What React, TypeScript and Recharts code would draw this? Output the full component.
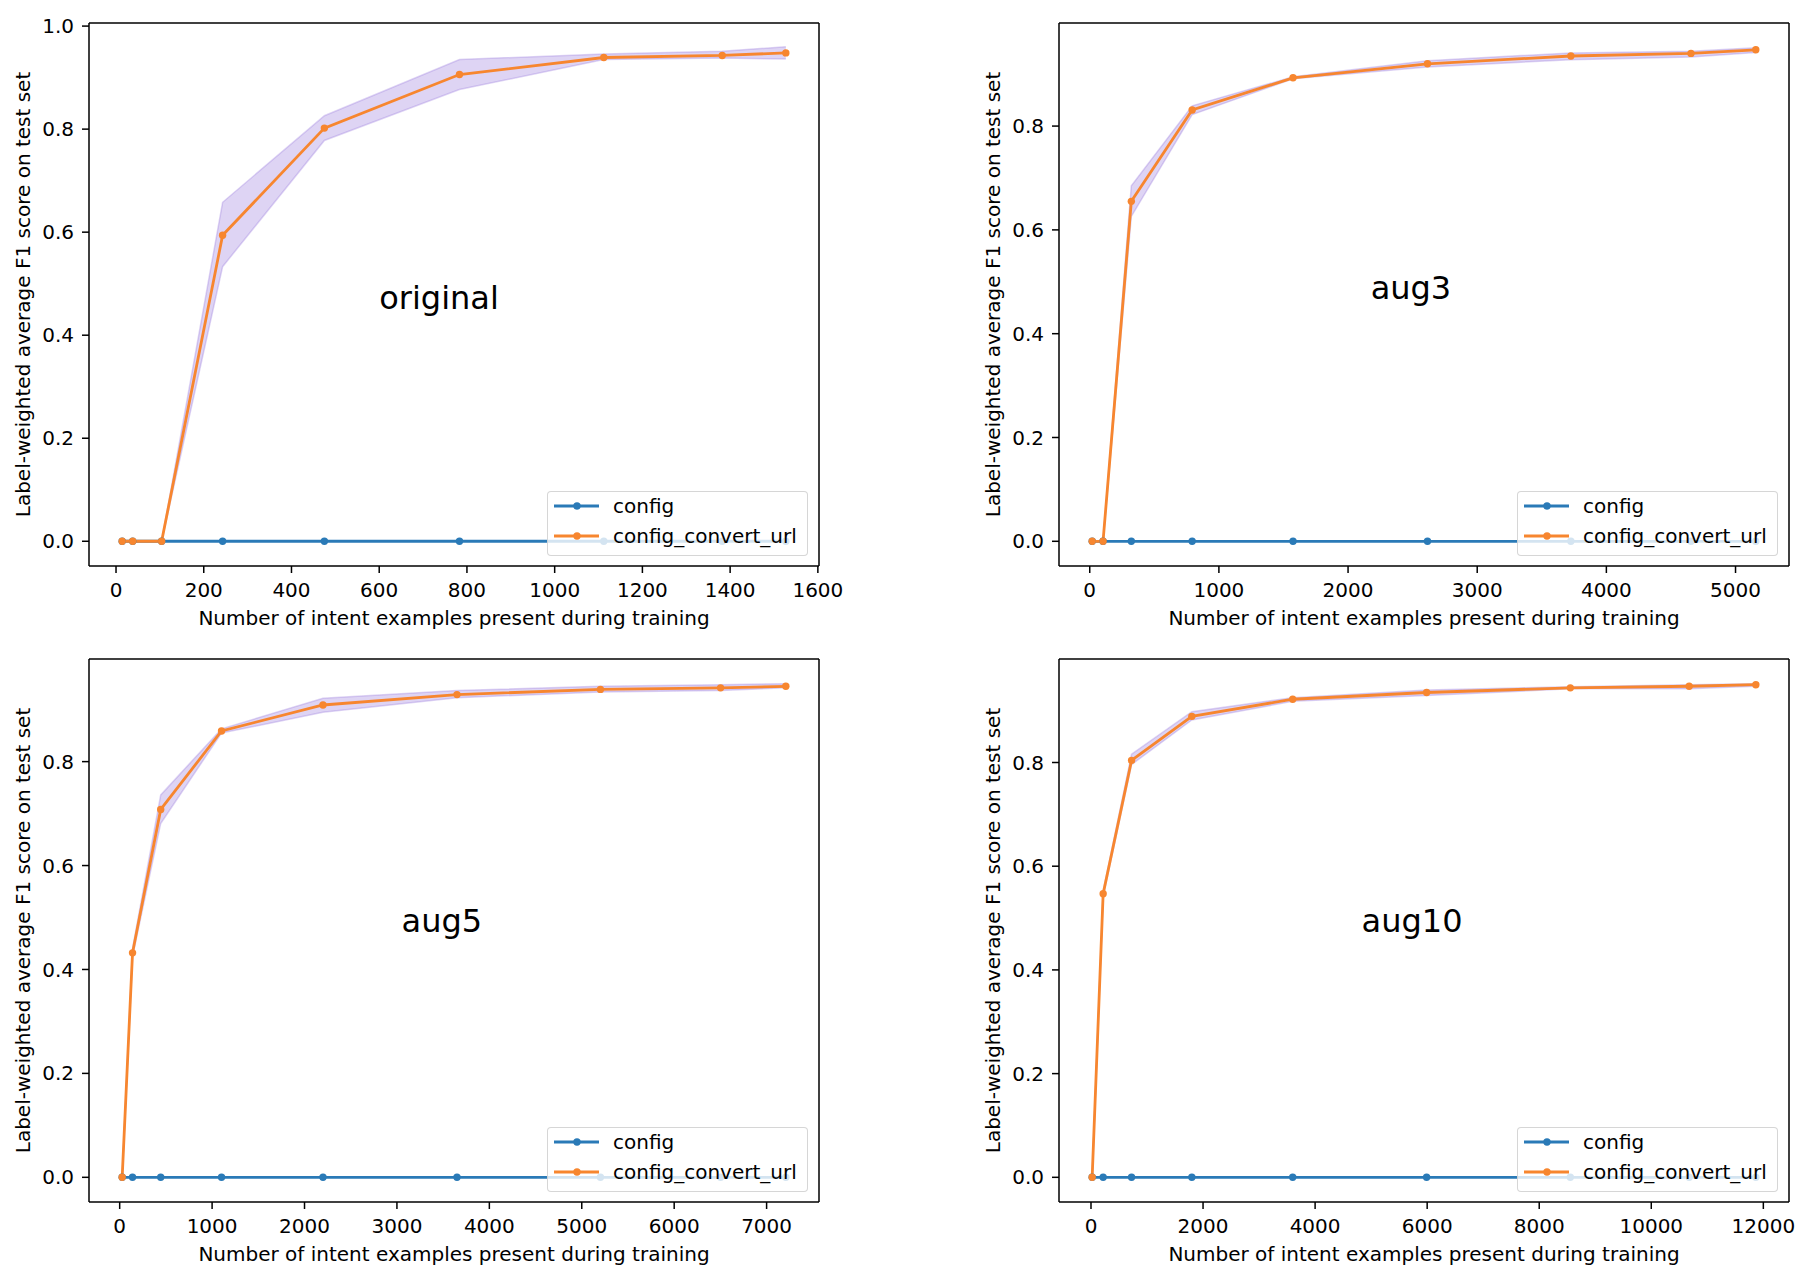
import { Area, ComposedChart, Label, Legend, Line, ReferenceDot, ReferenceLine, XAxis, YAxis } from 'recharts'

const FONT = '"DejaVu Sans", Verdana, sans-serif'
const BLUE = '#2a7ab7'
const ORANGE = '#f7862f'
const BAND = '#9370db'

// original
const originalX = [14, 38, 104, 243, 475, 783, 1112, 1382, 1527]
const originalConfig = [0, 0, 0, 0, 0, 0, 0, 0, 0]
const originalUrl = [0, 0, 0, 0.594, 0.802, 0.906, 0.939, 0.943, 0.948]
const originalLow = [0, 0, 0, 0.533, 0.778, 0.877, 0.935, 0.938, 0.936]
const originalHigh = [0, 0, 0, 0.658, 0.826, 0.935, 0.946, 0.951, 0.96]
const originalXTicks = [0, 200, 400, 600, 800, 1000, 1200, 1400, 1600]

// aug3
const aug3X = [19, 103, 322, 793, 1574, 2615, 3725, 4655, 5157]
const aug3Config = [0, 0, 0, 0, 0, 0, 0, 0, 0]
const aug3Url = [0, 0, 0.655, 0.831, 0.893, 0.92, 0.935, 0.94, 0.947]
const aug3Low = [0, 0, 0.626, 0.822, 0.891, 0.914, 0.928, 0.933, 0.942]
const aug3High = [0, 0, 0.685, 0.839, 0.895, 0.926, 0.941, 0.944, 0.951]
const aug3XTicks = [0, 1000, 2000, 3000, 4000, 5000]

// aug5
const aug5X = [27, 139, 444, 1102, 2200, 3650, 5202, 6502, 7208]
const aug5Config = [0, 0, 0, 0, 0, 0, 0, 0, 0]
const aug5Url = [0, 0.432, 0.708, 0.859, 0.909, 0.929, 0.939, 0.942, 0.945]
const aug5Low = [0, 0.425, 0.681, 0.855, 0.895, 0.923, 0.934, 0.937, 0.942]
const aug5High = [0, 0.44, 0.736, 0.863, 0.922, 0.937, 0.945, 0.948, 0.95]
const aug5XTicks = [0, 1000, 2000, 3000, 4000, 5000, 6000, 7000]

// aug10
const aug10X = [21, 217, 724, 1800, 3600, 5990, 8555, 10676, 11866]
const aug10Config = [0, 0, 0, 0, 0, 0, 0, 0, 0]
const aug10Url = [0, 0.547, 0.804, 0.889, 0.922, 0.935, 0.944, 0.947, 0.95]
const aug10Low = [0, 0.542, 0.796, 0.882, 0.918, 0.929, 0.942, 0.942, 0.947]
const aug10High = [0, 0.552, 0.816, 0.898, 0.925, 0.94, 0.946, 0.95, 0.952]
const aug10XTicks = [0, 2000, 4000, 6000, 8000, 10000, 12000]

const yTicksFull = [0, 0.2, 0.4, 0.6, 0.8, 1.0]
const yTicksShort = [0, 0.2, 0.4, 0.6, 0.8]

const seriesNames = ['config', 'config_convert_url']
const seriesColors = [BLUE, ORANGE]

const buildRows = (xs: number[], cfg: number[], url: number[], lo: number[], hi: number[]) =>
  xs.map((x, i) => ({ x, config: cfg[i], url: url[i], band: [lo[i], hi[i]] }))

const W = 844
const H = 636

function LegendBox() {
  return (
    <div
      style={{
        boxSizing: 'border-box',
        width: 261,
        height: 65,
        background: 'rgba(255,255,255,0.8)',
        border: '1px solid rgba(204,204,204,0.8)',
        borderRadius: 4,
        fontFamily: FONT,
        fontSize: 20,
        color: '#000',
      }}
    >
      {seriesNames.map((name, i) => (
        <div
          key={name}
          style={{ height: 30, marginTop: i === 0 ? -1 : 0, display: 'flex', alignItems: 'center', whiteSpace: 'nowrap' }}
        >
          <svg width={60} height={12} style={{ flex: 'none' }}>
            <line x1={6} y1={6} x2={51} y2={6} stroke={seriesColors[i]} strokeWidth={2.8} />
            <circle cx={29} cy={6} r={3.7} fill={seriesColors[i]} />
          </svg>
          <span style={{ marginLeft: 5 }}>{name}</span>
        </div>
      ))}
    </div>
  )
}

const xLabel = (props: any) => {
  const vb = props.viewBox
  return (
    <text
      x={vb.x + vb.width / 2}
      y={vb.y + 52}
      textAnchor="middle"
      dominantBaseline="central"
      fontFamily={FONT}
      fontSize={20}
      fill="#000"
    >
      Number of intent examples present during training
    </text>
  )
}

const yLabel = (props: any) => {
  const vb = props.viewBox
  const cx = vb.x + 23
  const cy = vb.y + vb.height / 2
  return (
    <text
      x={cx}
      y={cy}
      transform={`rotate(-90 ${cx} ${cy})`}
      textAnchor="middle"
      dominantBaseline="central"
      fontFamily={FONT}
      fontSize={20}
      fill="#000"
    >
      Label-weighted average F1 score on test set
    </text>
  )
}

interface PanelProps {
  rows: any[]
  xDomain: [number, number]
  yDomain: [number, number]
  xTicks: number[]
  yTicks: number[]
  name: string
  textAt: [number, number]
  left: number
  top: number
}

function Panel({ rows, xDomain, yDomain, xTicks, yTicks, name, textAt, left, top }: PanelProps) {
  const tickStyle = { fill: '#000', fontSize: 20, fontFamily: FONT }
  return (
    <div style={{ position: 'absolute', left, top, width: W, height: H }}>
      <ComposedChart width={W} height={H} data={rows} margin={{ top: 23, right: 25, bottom: 10, left: 0 }}>
        <XAxis
          dataKey="x"
          type="number"
          domain={xDomain}
          ticks={xTicks}
          allowDataOverflow
          interval={0}
          height={60}
          tickSize={7}
          tickMargin={10}
          stroke="#000"
          strokeWidth={1.5}
          tick={tickStyle}
        >
          <Label content={xLabel} />
        </XAxis>
        <YAxis
          type="number"
          domain={yDomain}
          ticks={yTicks}
          allowDataOverflow
          interval={0}
          width={89}
          tickSize={7}
          tickMargin={8}
          stroke="#000"
          strokeWidth={1.5}
          tick={tickStyle}
          tickFormatter={(v: number) => v.toFixed(1)}
        >
          <Label content={yLabel} />
        </YAxis>
        <ReferenceLine x={xDomain[1]} stroke="#000" strokeWidth={1.5} />
        <ReferenceLine y={yDomain[1]} stroke="#000" strokeWidth={1.5} />
        <Area
          dataKey="band"
          type="linear"
          fill={BAND}
          fillOpacity={0.3}
          stroke={BAND}
          strokeOpacity={0.3}
          strokeWidth={1.5}
          dot={false}
          activeDot={false}
          isAnimationActive={false}
        />
        <Line
          dataKey="config"
          type="linear"
          stroke={BLUE}
          strokeWidth={2.8}
          dot={{ r: 3.7, fill: BLUE, stroke: BLUE, strokeWidth: 0 }}
          activeDot={false}
          isAnimationActive={false}
        />
        <Line
          dataKey="url"
          type="linear"
          stroke={ORANGE}
          strokeWidth={2.8}
          dot={{ r: 3.7, fill: ORANGE, stroke: ORANGE, strokeWidth: 0 }}
          activeDot={false}
          isAnimationActive={false}
        />
        <ReferenceDot
          x={textAt[0]}
          y={textAt[1]}
          r={0}
          shape={(p: any) => (
            <text x={p.cx} y={p.cy} fontFamily={FONT} fontSize={32} fill="#000">
              {name}
            </text>
          )}
        />
        <Legend
          layout="vertical"
          align="center"
          verticalAlign="middle"
          content={() => <LegendBox />}
          wrapperStyle={{ left: 547, top: 491, width: 261, height: 65 }}
        />
      </ComposedChart>
    </div>
  )
}

export default function App() {
  return (
    <div style={{ position: 'absolute', left: 0, top: 0, width: 1814, height: 1280, background: '#fff' }}>
      <Panel
        rows={buildRows(originalX, originalConfig, originalUrl, originalLow, originalHigh)}
        xDomain={[-61.6, 1602.6]}
        yDomain={[-0.048, 1.006]}
        xTicks={originalXTicks}
        yTicks={yTicksFull}
        name="original"
        textAt={[600, 0.45]}
        left={0}
        top={0}
      />
      <Panel
        rows={buildRows(aug3X, aug3Config, aug3Url, aug3Low, aug3High)}
        xDomain={[-238, 5414]}
        yDomain={[-0.0476, 0.9986]}
        xTicks={aug3XTicks}
        yTicks={yTicksShort}
        name="aug3"
        textAt={[2175, 0.466]}
        left={970}
        top={0}
      />
      <Panel
        rows={buildRows(aug5X, aug5Config, aug5Url, aug5Low, aug5High)}
        xDomain={[-332, 7567]}
        yDomain={[-0.0475, 0.9975]}
        xTicks={aug5XTicks}
        yTicks={yTicksShort}
        name="aug5"
        textAt={[3050, 0.473]}
        left={0}
        top={636}
      />
      <Panel
        rows={buildRows(aug10X, aug10Config, aug10Url, aug10Low, aug10High)}
        xDomain={[-571, 12458]}
        yDomain={[-0.0476, 0.9996]}
        xTicks={aug10XTicks}
        yTicks={yTicksShort}
        name="aug10"
        textAt={[4830, 0.473]}
        left={970}
        top={636}
      />
    </div>
  )
}
